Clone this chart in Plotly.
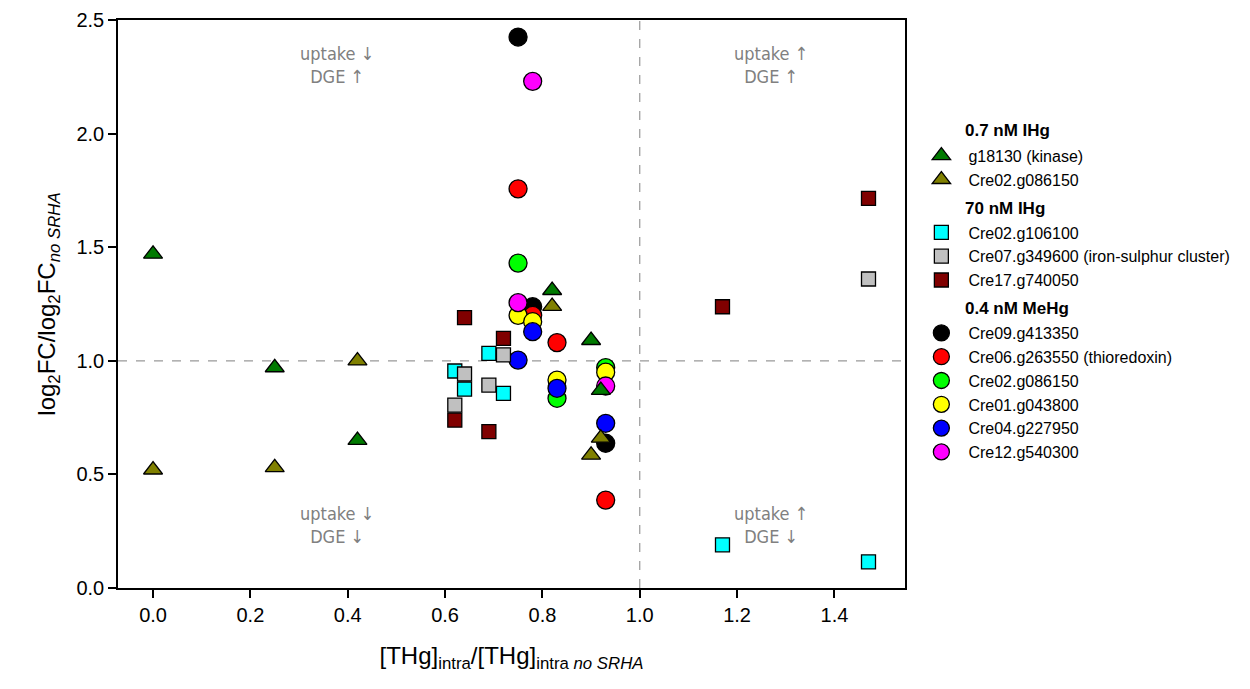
import plotly.graph_objects as go

# ---- data ----
# 0.7 nM IHg (triangles)
ihg07_kinase_x = [0.00, 0.25, 0.42, 0.82, 0.90, 0.92]
ihg07_kinase_y = [1.47, 0.97, 0.65, 1.31, 1.09, 0.87]
ihg07_cre02_x = [0.00, 0.25, 0.42, 0.82, 0.92, 0.90]
ihg07_cre02_y = [0.52, 0.53, 1.00, 1.24, 0.66, 0.585]

# 70 nM IHg (squares)
ihg70_cre02_x = [0.62, 0.64, 0.69, 0.72, 1.17, 1.47]
ihg70_cre02_y = [0.955, 0.875, 1.033, 0.857, 0.19, 0.115]
ihg70_cre07_x = [0.62, 0.64, 0.69, 0.72, 1.47]
ihg70_cre07_y = [0.805, 0.942, 0.893, 1.026, 1.36]
ihg70_cre17_x = [0.62, 0.64, 0.69, 0.72, 1.17, 1.47]
ihg70_cre17_y = [0.739, 1.19, 0.688, 1.099, 1.238, 1.715]

# 0.4 nM MeHg (circles)
mehg_cre09_x = [0.75, 0.78, 0.93]
mehg_cre09_y = [2.425, 1.238, 0.637]
mehg_cre06_x = [0.75, 0.78, 0.83, 0.93]
mehg_cre06_y = [1.757, 1.20, 1.08, 0.387]
mehg_cre02_x = [0.75, 0.83, 0.93]
mehg_cre02_y = [1.43, 0.835, 0.97]
mehg_cre01_x = [0.75, 0.78, 0.83, 0.93]
mehg_cre01_y = [1.20, 1.172, 0.915, 0.950]
mehg_cre04_x = [0.75, 0.78, 0.83, 0.93]
mehg_cre04_y = [1.003, 1.128, 0.879, 0.725]
mehg_cre12_x = [0.78, 0.75, 0.93]
mehg_cre12_y = [2.23, 1.256, 0.889]

group_titles = ["0.7 nM IHg", "70 nM IHg", "0.4 nM MeHg"]

x_ticks = [0.0, 0.2, 0.4, 0.6, 0.8, 1.0, 1.2, 1.4]
y_ticks = [0.0, 0.5, 1.0, 1.5, 2.0, 2.5]

FONT = "Liberation Sans, Arial, sans-serif"
PLACEHOLDER = "\u200b"   # reserves the group-title row in the legend

fig = go.Figure()

def add(x, y, name, color, symbol, size, group, first, rank):
    fig.add_trace(go.Scatter(
        x=x, y=y, mode="markers", name=name,
        legendgroup=group, legendrank=rank,
        legendgrouptitle=dict(text=PLACEHOLDER, font=dict(size=17, family=FONT)) if first else None,
        marker=dict(color=color, symbol=symbol, size=size, line=dict(color="black", width=1.3)),
    ))

# drawn first (bottom): circles
add(mehg_cre09_x, mehg_cre09_y, "Cre09.g413350", "#000000", "circle", 18, "g3", True, 301)
add(mehg_cre06_x, mehg_cre06_y, "Cre06.g263550 (thioredoxin)", "#ff0000", "circle", 18, "g3", False, 302)
add(mehg_cre02_x, mehg_cre02_y, "Cre02.g086150", "#00ff00", "circle", 18, "g3", False, 303)
add(mehg_cre01_x, mehg_cre01_y, "Cre01.g043800", "#ffff00", "circle", 18, "g3", False, 304)
add(mehg_cre04_x, mehg_cre04_y, "Cre04.g227950", "#0000ff", "circle", 18, "g3", False, 305)
add(mehg_cre12_x, mehg_cre12_y, "Cre12.g540300", "#ff00ff", "circle", 18, "g3", False, 306)

add(ihg70_cre02_x, ihg70_cre02_y, "Cre02.g106100", "#00ffff", "square", 14, "g2", True, 201)
add(ihg70_cre07_x, ihg70_cre07_y, "Cre07.g349600 (iron-sulphur cluster)", "#c0c0c0", "square", 14, "g2", False, 202)
add(ihg70_cre17_x, ihg70_cre17_y, "Cre17.g740050", "#800000", "square", 14, "g2", False, 203)

add(ihg07_kinase_x, ihg07_kinase_y, "g18130 (kinase)", "#007a00", "triangle-up", 16.5, "g1", True, 101)
add(ihg07_cre02_x, ihg07_cre02_y, "Cre02.g086150", "#808000", "triangle-up", 16.5, "g1", False, 102)

# group titles of the legend (bold, indented like the reference)
for gt, gy in zip(group_titles, [0.8046, 0.6673, 0.4912]):
    fig.add_annotation(xref="paper", yref="paper", x=1.0737, y=gy, text="<b>" + gt + "</b>",
                       showarrow=False, xanchor="left", yanchor="middle",
                       font=dict(size=17, family=FONT, color="black"))

# reference lines
fig.add_shape(type="line", xref="x", yref="paper", x0=1.0, x1=1.0, y0=0, y1=1,
              line=dict(color="#999999", width=1.2, dash="dash"), layer="below")
fig.add_shape(type="line", xref="paper", yref="y", x0=0, x1=1, y0=1.0, y1=1.0,
              line=dict(color="#999999", width=1.2, dash="dash"), layer="below")

# quadrant annotations
quad = [(0.378, 2.30, "uptake \u2193<br>DGE \u2191"),
        (1.27, 2.30, "uptake \u2191<br>DGE \u2191"),
        (0.378, 0.278, "uptake \u2193<br>DGE \u2193"),
        (1.27, 0.278, "uptake \u2191<br>DGE \u2193")]
for qx, qy, t in quad:
    fig.add_annotation(x=qx, y=qy, text=t, showarrow=False, xanchor="center", yanchor="middle",
                       font=dict(size=18, family="DejaVu Sans Condensed, DejaVu Sans", color="#808080"))

fig.update_layout(
    width=1250, height=689,
    margin=dict(l=118, r=345, t=20, b=101, autoexpand=False),
    paper_bgcolor="white", plot_bgcolor="white",
    font=dict(family=FONT, color="black"),
    showlegend=True,
    legend=dict(xref="container", yref="container", x=0.7315, y=0.835,
                xanchor="left", yanchor="top", maxheight=600,
                font=dict(size=16, family=FONT), tracegroupgap=4,
                itemwidth=44,
                bgcolor="rgba(0,0,0,0)", traceorder="grouped"),
)

fig.update_xaxes(range=[-0.072, 1.545], tickvals=x_ticks, ticktext=[f"{v:.1f}" for v in x_ticks],
                 showline=True, linecolor="black", linewidth=1.5, mirror=True,
                 ticks="outside", ticklen=8, tickwidth=1.5, tickcolor="black",
                 showgrid=False, zeroline=False, tickfont=dict(size=20, family=FONT),
                 title=dict(text="[THg]<sub>intra</sub>/[THg]<sub>intra <i>no SRHA</i></sub>",
                            font=dict(size=24, family=FONT), standoff=22))
fig.update_yaxes(range=[0, 2.5], tickvals=y_ticks, ticktext=[f"{v:.1f}" for v in y_ticks],
                 showline=True, linecolor="black", linewidth=1.5, mirror=True,
                 ticks="outside", ticklen=8, tickwidth=1.5, tickcolor="black",
                 showgrid=False, zeroline=False, tickfont=dict(size=20, family=FONT),
                 title=dict(text="log<sub>2</sub>FC/log<sub>2</sub>FC<sub><i>no SRHA</i></sub>",
                            font=dict(size=24, family=FONT), standoff=14))

fig.write_html("out.html")
